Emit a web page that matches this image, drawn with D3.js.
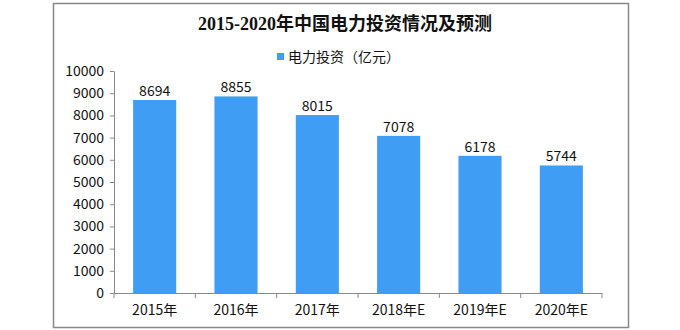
<!DOCTYPE html>
<html><head><meta charset="utf-8">
<script src="https://cdn.jsdelivr.net/npm/d3@7"></script>
<style>body{margin:0;background:#fff}svg{display:block}</style>
</head><body>
<svg id="c" width="680" height="330"></svg>
<script>
const categories = ["2015年","2016年","2017年","2018年E","2019年E","2020年E"];
const values = [8694, 8855, 8015, 7078, 6178, 5744];
const yTicks = [0,1000,2000,3000,4000,5000,6000,7000,8000,9000,10000];
const title = "2015-2020年中国电力投资情况及预测";
const seriesName = "电力投资（亿元）";

const svg = d3.select("#c");
const font = "'Noto Sans CJK SC', 'DejaVu Sans', sans-serif";
const titleFont = "'Liberation Serif', 'Noto Sans CJK SC', serif";
const gray = "#888";
const barColor = "#3f9ef4";

svg.append("rect").attr("x",53.5).attr("y",3.5).attr("width",575).attr("height",324)
  .attr("fill","none").attr("stroke",gray).attr("stroke-width",1.5);

const m = {left:114, right:602, top:71, bottom:293};
const x = d3.scaleBand().domain(categories).range([m.left,m.right]).paddingInner(0.47).paddingOuter(0.235);
const y = d3.scaleLinear().domain([0,10000]).range([m.bottom,m.top]);

svg.append("text").attr("x",345).attr("y",30).attr("text-anchor","middle")
  .attr("font-family",titleFont).attr("font-weight","bold").attr("font-size",18).attr("fill","#111").text(title);

svg.append("rect").attr("x",277).attr("y",53).attr("width",7).attr("height",7).attr("fill",barColor);
svg.append("text").attr("x",288).attr("y",62).attr("font-family",font).attr("font-size",14).attr("fill","#111").text(seriesName);

// y axis
const ya = svg.append("g").attr("transform",`translate(${m.left},0)`)
  .call(d3.axisLeft(y).tickValues(yTicks).tickFormat(d3.format("d")).tickSize(4).tickPadding(6).tickSizeOuter(0));
ya.select(".domain").attr("stroke",gray);
ya.selectAll(".tick line").attr("stroke",gray);
ya.selectAll(".tick text").attr("font-family",font).attr("font-size",14).attr("fill","#111");

// x axis
const xa = svg.append("g").attr("transform",`translate(0,${m.bottom})`)
  .call(d3.axisBottom(x).tickSize(0).tickPadding(12));
xa.select(".domain").attr("stroke",gray).attr("d",`M${m.left},0.5H${m.right}`);
xa.selectAll(".tick text").attr("font-family",font).attr("font-size",14).attr("fill","#111");
const step = x.step();
xa.selectAll(".bnd").data(d3.range(categories.length+1)).enter().append("line")
  .attr("x1",i=>m.left+i*step).attr("x2",i=>m.left+i*step).attr("y1",0).attr("y2",5).attr("stroke",gray);

svg.selectAll(".bar").data(values).enter().append("rect")
  .attr("x",(d,i)=>x(categories[i])).attr("width",x.bandwidth())
  .attr("y",d=>y(d)).attr("height",d=>y(0)-y(d)).attr("fill",barColor);

svg.selectAll(".lbl").data(values).enter().append("text")
  .attr("x",(d,i)=>x(categories[i])+x.bandwidth()/2).attr("y",d=>y(d)-4)
  .attr("text-anchor","middle").attr("font-family",font).attr("font-size",14).attr("fill","#111").text(d=>d);
</script>
</body></html>
